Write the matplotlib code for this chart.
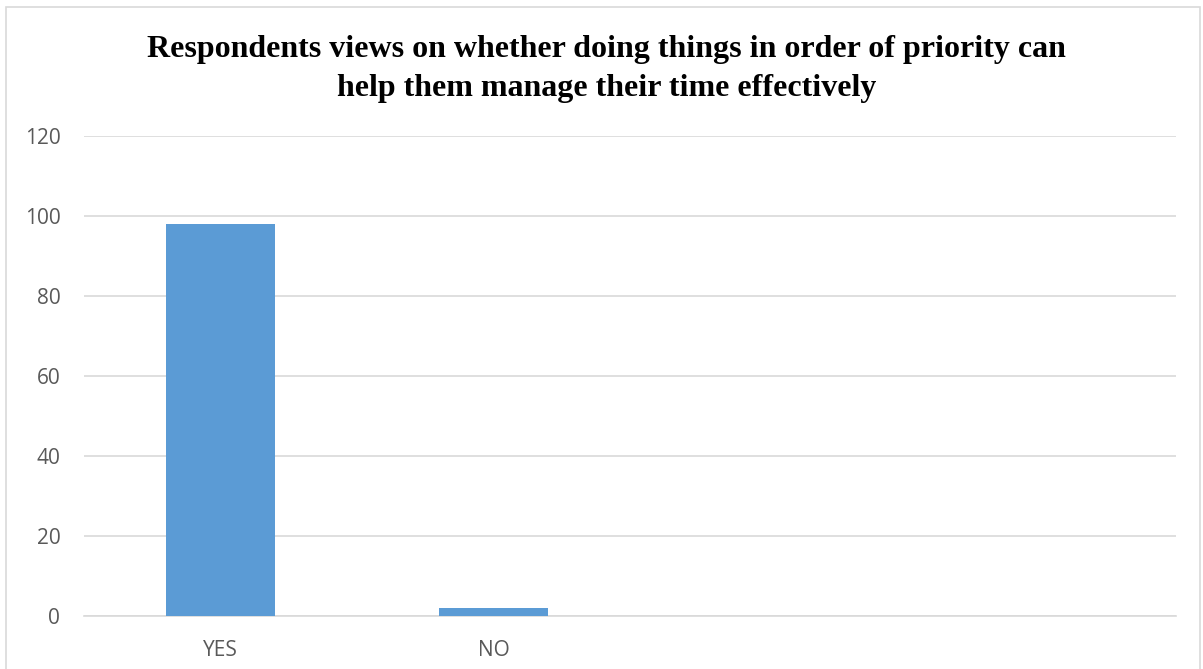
import matplotlib
matplotlib.use("Agg")
import matplotlib.pyplot as plt
from matplotlib.patches import Rectangle

# data
categories = ["YES", "NO", "", ""]
values = [98, 2, 0, 0]
yticks = [0, 20, 40, 60, 80, 100, 120]
title = "Respondents views on whether doing things in order of priority can\nhelp them manage their time effectively"

fig = plt.figure(figsize=(12.03, 6.69), dpi=100)
ax = fig.add_axes([0.0698, 0.0792, 0.9078, 0.7175])

x = list(range(len(categories)))
ax.bar(x[:2], values[:2], width=0.4, color="#5b9bd5", zorder=3)

ax.set_xlim(-0.5, 3.5)
ax.set_ylim(0, 120)
ax.set_yticks(yticks)
ax.set_xticks(x)
ax.set_xticklabels(categories)
ax.yaxis.grid(True, color="#d9d9d9", linewidth=1.2, zorder=0)
for s in ["top", "right", "left"]:
    ax.spines[s].set_visible(False)
ax.spines["bottom"].set_color("#d9d9d9")
ax.spines["bottom"].set_linewidth(1.2)
ax.tick_params(axis="both", length=0, labelsize=15, labelcolor="#595959")
ax.tick_params(axis="y", pad=17)
ax.tick_params(axis="x", pad=17)
for lbl in ax.get_xticklabels() + ax.get_yticklabels():
    lbl.set_family("Open Sans")

fig.text(0.504, 0.897, title, ha="center", va="center", fontsize=23,
         fontweight="bold", family="Liberation Serif", linespacing=1.42)

# chart border
fig.patches.append(Rectangle((6 / 1203, -0.01), 1194 / 1203, 1 - 7 / 669 + 0.01,
                             transform=fig.transFigure, fill=False,
                             edgecolor="#d9d9d9", linewidth=1.2))

fig.savefig("out.png", dpi=100)
